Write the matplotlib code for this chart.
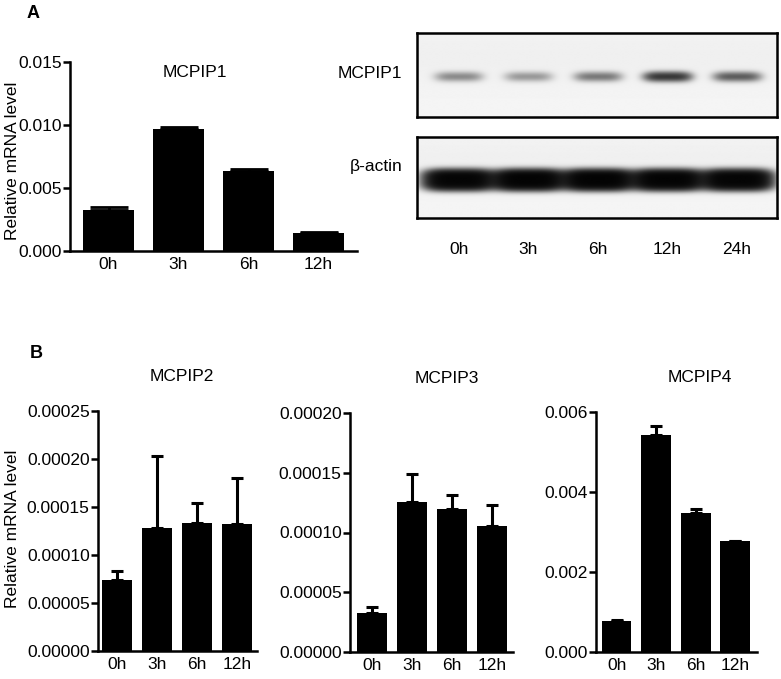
import numpy as np
import matplotlib
matplotlib.use("Agg")
import matplotlib.pyplot as plt
from matplotlib.ticker import FormatStrFormatter, MultipleLocator

plt.rcParams['font.family'] = ['Liberation Sans', 'DejaVu Sans']

# ---------------- data ----------------
qpcr_labels = ["0h", "3h", "6h", "12h"]

mcpip1_mean = [0.00325, 0.00971, 0.00637, 0.00143]
mcpip1_err = [0.00022, 0.00016, 0.00011, 0.00007]

mcpip2_mean = [7.35e-5, 1.28e-4, 1.333e-4, 1.319e-4]
mcpip2_err = [0.94e-5, 7.55e-5, 2.09e-5, 4.86e-5]

mcpip3_mean = [3.25e-5, 1.253e-4, 1.197e-4, 1.055e-4]
mcpip3_err = [0.55e-5, 2.35e-5, 1.14e-5, 1.73e-5]

mcpip4_mean = [0.000775, 0.005418, 0.003485, 0.002775]
mcpip4_err = [0.00002, 0.00024, 0.00010, 0.00001]

blot_lanes = ["0h", "3h", "6h", "12h", "24h"]
blot_mcpip1_intensity = [0.36, 0.30, 0.45, 0.95, 0.62]
blot_actin_intensity = [0.95, 1.0, 1.0, 0.98, 0.96]

# ---------------- figure ----------------
W, H = 781, 679
fig = plt.figure(figsize=(W / 100, H / 100), dpi=100)

def ax_px(l, t, r, b):
    return fig.add_axes([l / W, 1 - b / H, (r - l) / W, (b - t) / H])

FS = 12.5
LW = 1.8

def style_bar_axes(ax, ylim, step, fmt, xlim):
    for s in ['top', 'right']:
        ax.spines[s].set_visible(False)
    for s in ['left', 'bottom']:
        ax.spines[s].set_linewidth(LW)
    ax.set_ylim(*ylim)
    ax.set_xlim(*xlim)
    ax.yaxis.set_major_locator(MultipleLocator(step))
    ax.yaxis.set_major_formatter(FormatStrFormatter(fmt))
    ax.tick_params(axis='y', direction='out', length=5, width=LW, labelsize=FS, pad=1)
    ax.tick_params(axis='x', length=0, labelsize=FS, pad=4)

def bar_panel(ax, means, errs, width, capsize, capthick, elw):
    x = np.arange(len(qpcr_labels))
    ax.bar(x, means, width=width, color='black', edgecolor='black', linewidth=0)
    ax.errorbar(x, means, yerr=[np.zeros(len(errs)), errs], fmt='none',
                ecolor='black', elinewidth=elw, capsize=capsize, capthick=capthick)
    ax.set_xticks(x)
    ax.set_xticklabels(qpcr_labels)

# Panel A bar chart
axA = ax_px(70, 62, 357, 251)
bar_panel(axA, mcpip1_mean, mcpip1_err, 0.73, 14, 2.0, 2.0)
style_bar_axes(axA, (0, 0.015), 0.005, '%.3f', (-0.55, 3.55))
axA.text(0.436, 0.947, "MCPIP1", transform=axA.transAxes, ha='center', va='center', fontsize=FS)

# Panel B charts
axB2 = ax_px(98, 411, 257, 651)
bar_panel(axB2, mcpip2_mean, mcpip2_err, 0.75, 4.2, 2.2, 2.2)
style_bar_axes(axB2, (0, 0.00025), 0.00005, '%.5f', (-0.48, 3.5))
axB2.text(0.528, 1.144, "MCPIP2", transform=axB2.transAxes, ha='center', va='center', fontsize=FS)

axB3 = ax_px(350, 413, 513, 652)
bar_panel(axB3, mcpip3_mean, mcpip3_err, 0.75, 4.2, 2.2, 2.2)
style_bar_axes(axB3, (0, 0.00020), 0.00005, '%.5f', (-0.55, 3.53))
axB3.text(0.595, 1.145, "MCPIP3", transform=axB3.transAxes, ha='center', va='center', fontsize=FS)

axB4 = ax_px(596, 412, 757, 652)
bar_panel(axB4, mcpip4_mean, mcpip4_err, 0.75, 4.2, 2.2, 2.2)
style_bar_axes(axB4, (0, 0.006), 0.002, '%.3f', (-0.52, 3.55))
axB4.text(0.646, 1.142, "MCPIP4", transform=axB4.transAxes, ha='center', va='center', fontsize=FS)

# y labels and panel letters
fig.text(12.5 / W, 1 - 161 / H, "Relative mRNA level", rotation=90, ha='center', va='center', fontsize=FS)
fig.text(12.5 / W, 1 - 529 / H, "Relative mRNA level", rotation=90, ha='center', va='center', fontsize=FS)
fig.text(33 / W, 1 - 13 / H, "A", ha='center', va='center', fontsize=13, fontweight='bold')
fig.text(36 / W, 1 - 354 / H, "B", ha='center', va='center', fontsize=13, fontweight='bold')

# ---------------- western blot ----------------
bx0, bx1 = -0.6, 4.58
nl = len(blot_lanes)
xs = np.linspace(bx0, bx1, 720)
ys = np.linspace(0, 1, 170)
X, Y = np.meshgrid(xs, ys)

def blot_image(intens, yc, sx, sy, px, py, sat):
    dark = np.zeros_like(X)
    for i, v in enumerate(intens):
        dark += v * np.exp(-np.abs((X - i) / sx) ** px) * np.exp(-np.abs((Y - yc) / sy) ** py)
    dark = 1 - np.exp(-sat * dark)
    haze = 0.025 + 0.02 * np.exp(-((Y - 0.3) / 0.35) ** 2)
    img = 0.985 - haze - 0.96 * dark
    return np.clip(img, 0, 1)

img1 = blot_image(blot_mcpip1_intensity, 0.52, 0.33, 0.055, 4, 2, 1.5)
img2 = blot_image(blot_actin_intensity, 0.53, 0.48, 0.12, 4, 3, 3.5)

axW1 = ax_px(417, 33, 777, 117)
axW2 = ax_px(417, 137, 777, 218)
for axw, img in ((axW1, img1), (axW2, img2)):
    axw.imshow(img, cmap='gray', vmin=0, vmax=1, extent=(bx0, bx1, 1, 0),
               aspect='auto', interpolation='bilinear')
    axw.set_xlim(bx0, bx1)
    axw.set_ylim(1, 0)
    axw.set_yticks([])
    for s in axw.spines.values():
        s.set_linewidth(LW)
        s.set_color('black')
axW1.set_xticks([])
axW2.set_xticks(np.arange(nl))
axW2.set_xticklabels(blot_lanes)
axW2.tick_params(axis='x', length=0, labelsize=FS, pad=17)

fig.text(402 / W, 1 - 73 / H, "MCPIP1", ha='right', va='center', fontsize=FS)
fig.text(402 / W, 1 - 167 / H, "β-actin", ha='right', va='center', fontsize=FS)

fig.savefig("out.png", dpi=100)
